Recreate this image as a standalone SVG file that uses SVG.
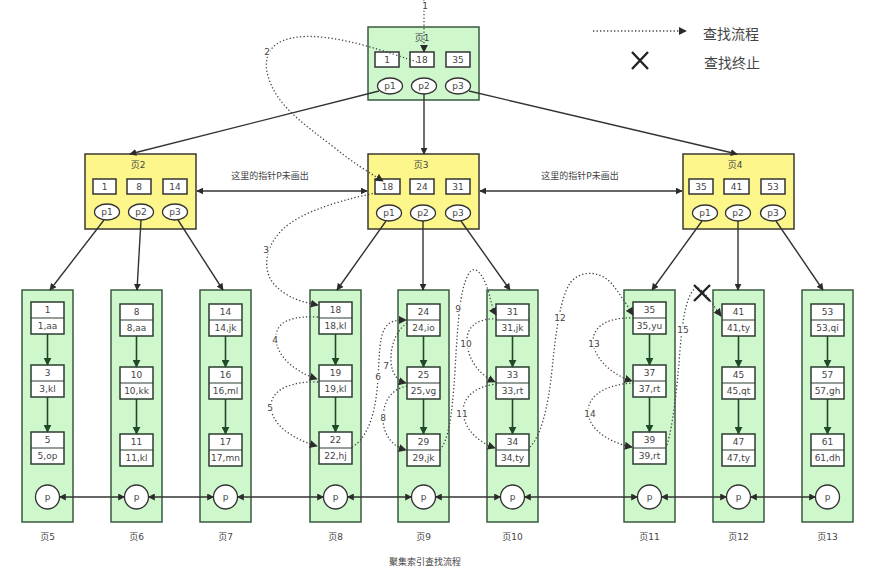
<svg xmlns="http://www.w3.org/2000/svg" width="878" height="572" viewBox="0 0 878 572">
<defs>
<marker id="ah" viewBox="0 0 10 10" refX="9" refY="5" markerWidth="7" markerHeight="7" markerUnits="userSpaceOnUse" orient="auto-start-reverse"><path d="M0,0 L10,5 L0,10 z" fill="#2b2b2b"/></marker>
<marker id="ahg" viewBox="0 0 10 10" refX="9" refY="5" markerWidth="8" markerHeight="8" markerUnits="userSpaceOnUse" orient="auto-start-reverse"><path d="M0,0 L10,5 L0,10 z" fill="#1f4a2a"/></marker>
<marker id="ahd" viewBox="0 0 10 10" refX="9" refY="5" markerWidth="8" markerHeight="8" markerUnits="userSpaceOnUse" orient="auto"><path d="M0,0 L10,5 L0,10 z" fill="#2b2b2b"/></marker>
</defs>
<style>
text{font-family:"DejaVu Sans","Noto Sans CJK SC",sans-serif;fill:#444;text-anchor:middle;dominant-baseline:central}
.t9{font-size:9px}
.t10{font-size:10px}
.leg{font-size:14px;text-anchor:start}
.green{fill:#cff7cc;stroke:#3a5a40;stroke-width:1.5}
.yellow{fill:#fdf68a;stroke:#3a3a30;stroke-width:1.5}
.box{fill:#fff;stroke:#333;stroke-width:1.5}
.lbox{fill:#fff;stroke:#2d3d30;stroke-width:1.5}
.ell{fill:#fff;stroke:#333;stroke-width:1.3}
.tree{stroke:#333;stroke-width:1.4;fill:none;marker-end:url(#ah)}
.dbl{stroke:#333;stroke-width:1.4;fill:none;marker-start:url(#ah);marker-end:url(#ah)}
.inner{stroke:#1f4a2a;stroke-width:1.6;fill:none;marker-end:url(#ahg)}
.dot{stroke:#444;stroke-width:1.3;fill:none;stroke-dasharray:1.3 2.2;marker-end:url(#ahd)}
.num{font-size:9px;paint-order:stroke;stroke:#fff;stroke-width:3px}
.x{stroke:#222;stroke-width:2.4;fill:none}
</style>
<rect width="878" height="572" fill="#fff"/>

<!-- legend -->
<g id="legend">
<path d="M593,31 L686,31" class="dot"/>
<text x="703" y="34" class="leg">查找流程</text>
<path d="M632,52 L648,69 M648,52 L632,69" class="x"/>
<text x="704" y="63" class="leg">查找终止</text>
</g>

<!-- page 1 -->
<g id="page1">
<rect x="368" y="27" width="111" height="73" class="green"/>
<text x="422" y="38" class="t9">页1</text>
<rect x="375" y="52" width="24" height="15" class="box"/><text x="387" y="60" class="t9">1</text>
<rect x="410" y="52" width="24" height="15" class="box"/><text x="422" y="60" class="t9">18</text>
<rect x="446" y="52" width="24" height="15" class="box"/><text x="458" y="60" class="t9">35</text>
<ellipse cx="390" cy="86" rx="12.5" ry="8" class="ell"/><text x="390" y="86" class="t9">p1</text>
<ellipse cx="424" cy="86" rx="12.5" ry="8" class="ell"/><text x="424" y="86" class="t9">p2</text>
<ellipse cx="458" cy="86" rx="12.5" ry="8" class="ell"/><text x="458" y="86" class="t9">p3</text>
</g>

<!-- page 2 -->
<g id="page2">
<rect x="85" y="154" width="111" height="75" class="yellow"/>
<text x="138" y="165" class="t9">页2</text>
<rect x="93" y="179" width="23" height="15" class="box"/><text x="104.5" y="187" class="t9">1</text>
<rect x="127" y="179" width="24" height="15" class="box"/><text x="139" y="187" class="t9">8</text>
<rect x="163" y="179" width="24" height="15" class="box"/><text x="175" y="187" class="t9">14</text>
<ellipse cx="107" cy="212" rx="12.5" ry="8" class="ell"/><text x="107" y="212" class="t9">p1</text>
<ellipse cx="141" cy="212" rx="12.5" ry="8" class="ell"/><text x="141" y="212" class="t9">p2</text>
<ellipse cx="175" cy="212" rx="12.5" ry="8" class="ell"/><text x="175" y="212" class="t9">p3</text>
</g>

<!-- page 3 -->
<g id="page3">
<rect x="368" y="154" width="111" height="75" class="yellow"/>
<text x="421" y="165" class="t9">页3</text>
<rect x="375" y="179" width="25" height="15" class="box"/><text x="387.5" y="187" class="t9">18</text>
<rect x="410" y="179" width="24" height="15" class="box"/><text x="422" y="187" class="t9">24</text>
<rect x="446" y="179" width="24" height="15" class="box"/><text x="458" y="187" class="t9">31</text>
<ellipse cx="389" cy="213" rx="12.5" ry="8" class="ell"/><text x="389" y="213" class="t9">p1</text>
<ellipse cx="423" cy="213" rx="12.5" ry="8" class="ell"/><text x="423" y="213" class="t9">p2</text>
<ellipse cx="458" cy="213" rx="12.5" ry="8" class="ell"/><text x="458" y="213" class="t9">p3</text>
</g>

<!-- page 4 -->
<g id="page4">
<rect x="683" y="154" width="111" height="75" class="yellow"/>
<text x="735" y="165" class="t9">页4</text>
<rect x="689" y="179" width="24" height="15" class="box"/><text x="701" y="187" class="t9">35</text>
<rect x="724" y="179" width="25" height="15" class="box"/><text x="736.5" y="187" class="t9">41</text>
<rect x="761" y="179" width="24" height="15" class="box"/><text x="773" y="187" class="t9">53</text>
<ellipse cx="705" cy="213" rx="12.5" ry="8" class="ell"/><text x="705" y="213" class="t9">p1</text>
<ellipse cx="738" cy="213" rx="12.5" ry="8" class="ell"/><text x="738" y="213" class="t9">p2</text>
<ellipse cx="773" cy="213" rx="12.5" ry="8" class="ell"/><text x="773" y="213" class="t9">p3</text>
</g>

<!-- leaf pages -->
<g id="page5">
<rect x="22" y="290" width="51" height="232" class="green"/>
<rect x="31" y="302" width="33" height="32" class="lbox"/><line x1="31" y1="318" x2="64" y2="318" stroke="#2d3d30" stroke-width="1.2"/><text x="47.5" y="310" class="t9">1</text><text x="47.5" y="326" class="t9">1,aa</text>
<rect x="31" y="365" width="33" height="32" class="lbox"/><line x1="31" y1="381" x2="64" y2="381" stroke="#2d3d30" stroke-width="1.2"/><text x="47.5" y="373" class="t9">3</text><text x="47.5" y="389" class="t9">3,kl</text>
<rect x="31" y="432" width="33" height="32" class="lbox"/><line x1="31" y1="448" x2="64" y2="448" stroke="#2d3d30" stroke-width="1.2"/><text x="47.5" y="440" class="t9">5</text><text x="47.5" y="456" class="t9">5,op</text>
<path d="M47.5,334 L47.5,365" class="inner"/><path d="M47.5,397 L47.5,432" class="inner"/>
<circle cx="47.5" cy="497" r="12" class="ell"/><text x="47.5" y="497" class="t9">p</text>
<text x="47.5" y="537" class="t9">页5</text>
</g>
<g id="page6">
<rect x="111" y="290" width="51" height="232" class="green"/>
<rect x="120" y="304" width="33" height="32" class="lbox"/><line x1="120" y1="320" x2="153" y2="320" stroke="#2d3d30" stroke-width="1.2"/><text x="136.5" y="312" class="t9">8</text><text x="136.5" y="328" class="t9">8,aa</text>
<rect x="120" y="367" width="33" height="32" class="lbox"/><line x1="120" y1="383" x2="153" y2="383" stroke="#2d3d30" stroke-width="1.2"/><text x="136.5" y="375" class="t9">10</text><text x="136.5" y="391" class="t9">10,kk</text>
<rect x="120" y="434" width="33" height="32" class="lbox"/><line x1="120" y1="450" x2="153" y2="450" stroke="#2d3d30" stroke-width="1.2"/><text x="136.5" y="442" class="t9">11</text><text x="136.5" y="458" class="t9">11,kl</text>
<path d="M136.5,336 L136.5,367" class="inner"/><path d="M136.5,399 L136.5,434" class="inner"/>
<circle cx="136.5" cy="497" r="12" class="ell"/><text x="136.5" y="497" class="t9">p</text>
<text x="136.5" y="537" class="t9">页6</text>
</g>
<g id="page7">
<rect x="200" y="290" width="51" height="232" class="green"/>
<rect x="209" y="304" width="33" height="32" class="lbox"/><line x1="209" y1="320" x2="242" y2="320" stroke="#2d3d30" stroke-width="1.2"/><text x="225.5" y="312" class="t9">14</text><text x="225.5" y="328" class="t9">14,jk</text>
<rect x="209" y="367" width="33" height="32" class="lbox"/><line x1="209" y1="383" x2="242" y2="383" stroke="#2d3d30" stroke-width="1.2"/><text x="225.5" y="375" class="t9">16</text><text x="225.5" y="391" class="t9">16,ml</text>
<rect x="209" y="434" width="33" height="32" class="lbox"/><line x1="209" y1="450" x2="242" y2="450" stroke="#2d3d30" stroke-width="1.2"/><text x="225.5" y="442" class="t9">17</text><text x="225.5" y="458" class="t9">17,mn</text>
<path d="M225.5,336 L225.5,367" class="inner"/><path d="M225.5,399 L225.5,434" class="inner"/>
<circle cx="225.5" cy="497" r="12" class="ell"/><text x="225.5" y="497" class="t9">p</text>
<text x="225.5" y="537" class="t9">页7</text>
</g>
<g id="page8">
<rect x="310" y="290" width="51" height="232" class="green"/>
<rect x="319" y="302" width="33" height="32" class="lbox"/><line x1="319" y1="318" x2="352" y2="318" stroke="#2d3d30" stroke-width="1.2"/><text x="335.5" y="310" class="t9">18</text><text x="335.5" y="326" class="t9">18,kl</text>
<rect x="319" y="365" width="33" height="32" class="lbox"/><line x1="319" y1="381" x2="352" y2="381" stroke="#2d3d30" stroke-width="1.2"/><text x="335.5" y="373" class="t9">19</text><text x="335.5" y="389" class="t9">19,kl</text>
<rect x="319" y="432" width="33" height="32" class="lbox"/><line x1="319" y1="448" x2="352" y2="448" stroke="#2d3d30" stroke-width="1.2"/><text x="335.5" y="440" class="t9">22</text><text x="335.5" y="456" class="t9">22,hj</text>
<path d="M335.5,334 L335.5,365" class="inner"/><path d="M335.5,397 L335.5,432" class="inner"/>
<circle cx="335.5" cy="497" r="12" class="ell"/><text x="335.5" y="497" class="t9">p</text>
<text x="335.5" y="537" class="t9">页8</text>
</g>
<g id="page9">
<rect x="398" y="290" width="51" height="232" class="green"/>
<rect x="407" y="304" width="33" height="32" class="lbox"/><line x1="407" y1="320" x2="440" y2="320" stroke="#2d3d30" stroke-width="1.2"/><text x="423.5" y="312" class="t9">24</text><text x="423.5" y="328" class="t9">24,io</text>
<rect x="407" y="367" width="33" height="32" class="lbox"/><line x1="407" y1="383" x2="440" y2="383" stroke="#2d3d30" stroke-width="1.2"/><text x="423.5" y="375" class="t9">25</text><text x="423.5" y="391" class="t9">25,vg</text>
<rect x="407" y="434" width="33" height="32" class="lbox"/><line x1="407" y1="450" x2="440" y2="450" stroke="#2d3d30" stroke-width="1.2"/><text x="423.5" y="442" class="t9">29</text><text x="423.5" y="458" class="t9">29,jk</text>
<path d="M423.5,336 L423.5,367" class="inner"/><path d="M423.5,399 L423.5,434" class="inner"/>
<circle cx="423.5" cy="497" r="12" class="ell"/><text x="423.5" y="497" class="t9">p</text>
<text x="423.5" y="537" class="t9">页9</text>
</g>
<g id="page10">
<rect x="487" y="290" width="51" height="232" class="green"/>
<rect x="496" y="304" width="33" height="32" class="lbox"/><line x1="496" y1="320" x2="529" y2="320" stroke="#2d3d30" stroke-width="1.2"/><text x="512.5" y="312" class="t9">31</text><text x="512.5" y="328" class="t9">31,jk</text>
<rect x="496" y="367" width="33" height="32" class="lbox"/><line x1="496" y1="383" x2="529" y2="383" stroke="#2d3d30" stroke-width="1.2"/><text x="512.5" y="375" class="t9">33</text><text x="512.5" y="391" class="t9">33,rt</text>
<rect x="496" y="434" width="33" height="32" class="lbox"/><line x1="496" y1="450" x2="529" y2="450" stroke="#2d3d30" stroke-width="1.2"/><text x="512.5" y="442" class="t9">34</text><text x="512.5" y="458" class="t9">34,ty</text>
<path d="M512.5,336 L512.5,367" class="inner"/><path d="M512.5,399 L512.5,434" class="inner"/>
<circle cx="512.5" cy="497" r="12" class="ell"/><text x="512.5" y="497" class="t9">p</text>
<text x="512.5" y="537" class="t9">页10</text>
</g>
<g id="page11">
<rect x="624" y="290" width="51" height="232" class="green"/>
<rect x="633" y="302" width="33" height="32" class="lbox"/><line x1="633" y1="318" x2="666" y2="318" stroke="#2d3d30" stroke-width="1.2"/><text x="649.5" y="310" class="t9">35</text><text x="649.5" y="326" class="t9">35,yu</text>
<rect x="633" y="365" width="33" height="32" class="lbox"/><line x1="633" y1="381" x2="666" y2="381" stroke="#2d3d30" stroke-width="1.2"/><text x="649.5" y="373" class="t9">37</text><text x="649.5" y="389" class="t9">37,rt</text>
<rect x="633" y="432" width="33" height="32" class="lbox"/><line x1="633" y1="448" x2="666" y2="448" stroke="#2d3d30" stroke-width="1.2"/><text x="649.5" y="440" class="t9">39</text><text x="649.5" y="456" class="t9">39,rt</text>
<path d="M649.5,334 L649.5,365" class="inner"/><path d="M649.5,397 L649.5,432" class="inner"/>
<circle cx="649.5" cy="497" r="12" class="ell"/><text x="649.5" y="497" class="t9">p</text>
<text x="649.5" y="537" class="t9">页11</text>
</g>
<g id="page12">
<rect x="713" y="290" width="51" height="232" class="green"/>
<rect x="722" y="304" width="33" height="32" class="lbox"/><line x1="722" y1="320" x2="755" y2="320" stroke="#2d3d30" stroke-width="1.2"/><text x="738.5" y="312" class="t9">41</text><text x="738.5" y="328" class="t9">41,ty</text>
<rect x="722" y="367" width="33" height="32" class="lbox"/><line x1="722" y1="383" x2="755" y2="383" stroke="#2d3d30" stroke-width="1.2"/><text x="738.5" y="375" class="t9">45</text><text x="738.5" y="391" class="t9">45,qt</text>
<rect x="722" y="434" width="33" height="32" class="lbox"/><line x1="722" y1="450" x2="755" y2="450" stroke="#2d3d30" stroke-width="1.2"/><text x="738.5" y="442" class="t9">47</text><text x="738.5" y="458" class="t9">47,ty</text>
<path d="M738.5,336 L738.5,367" class="inner"/><path d="M738.5,399 L738.5,434" class="inner"/>
<circle cx="738.5" cy="497" r="12" class="ell"/><text x="738.5" y="497" class="t9">p</text>
<text x="738.5" y="537" class="t9">页12</text>
</g>
<g id="page13">
<rect x="802" y="290" width="51" height="232" class="green"/>
<rect x="811" y="304" width="33" height="32" class="lbox"/><line x1="811" y1="320" x2="844" y2="320" stroke="#2d3d30" stroke-width="1.2"/><text x="827.5" y="312" class="t9">53</text><text x="827.5" y="328" class="t9">53,qi</text>
<rect x="811" y="367" width="33" height="32" class="lbox"/><line x1="811" y1="383" x2="844" y2="383" stroke="#2d3d30" stroke-width="1.2"/><text x="827.5" y="375" class="t9">57</text><text x="827.5" y="391" class="t9">57,gh</text>
<rect x="811" y="434" width="33" height="32" class="lbox"/><line x1="811" y1="450" x2="844" y2="450" stroke="#2d3d30" stroke-width="1.2"/><text x="827.5" y="442" class="t9">61</text><text x="827.5" y="458" class="t9">61,dh</text>
<path d="M827.5,336 L827.5,367" class="inner"/><path d="M827.5,399 L827.5,434" class="inner"/>
<circle cx="827.5" cy="497" r="12" class="ell"/><text x="827.5" y="497" class="t9">p</text>
<text x="827.5" y="537" class="t9">页13</text>
</g>

<!-- connectors -->
<g id="connectors">
<path d="M379,91 L130,154" class="tree"/>
<path d="M424,94 L424,154" class="tree"/>
<path d="M469,91 L737,154" class="tree"/>
<path d="M104,220 L50,290" class="tree"/>
<path d="M141,220 L137,290" class="tree"/>
<path d="M178,220 L223,290" class="tree"/>
<path d="M386,221 L337,290" class="tree"/>
<path d="M423,221 L423,290" class="tree"/>
<path d="M461,221 L510,290" class="tree"/>
<path d="M702,221 L652,290" class="tree"/>
<path d="M738,221 L738,290" class="tree"/>
<path d="M776,221 L823,290" class="tree"/>
<path d="M197,191 L367,191" class="dbl"/>
<path d="M480,191 L682,191" class="dbl"/>
<text x="270" y="176" class="t9">这里的指针P未画出</text>
<text x="580" y="176" class="t9">这里的指针P未画出</text>
<path d="M59.5,497 L124.5,497" class="dbl"/>
<path d="M148.5,497 L213.5,497" class="dbl"/>
<path d="M237.5,497 L323.5,497" class="dbl"/>
<path d="M347.5,497 L411.5,497" class="dbl"/>
<path d="M435.5,497 L500.5,497" class="dbl"/>
<path d="M524.5,497 L637.5,497" class="dbl"/>
<path d="M661.5,497 L726.5,497" class="dbl"/>
<path d="M750.5,497 L815.5,497" class="dbl"/>

<!-- search flow -->
<path d="M424,0 L424,52" class="dot"/>
<text x="425" y="6" class="num">1</text>
<path d="M417,62 C395,55 330,30 292,38 C266,43 262,62 270,82 C280,108 305,125 335,148 C352,162 368,172 383,181" class="dot"/>
<text x="267" y="52" class="num">2</text>
<path d="M376,193 C350,198 302,210 282,230 C264,248 263,270 273,283 C286,298 302,302 318,305" class="dot"/>
<text x="266" y="250" class="num">3</text>
<path d="M318,317 C295,316 278,320 276,335 C274,355 295,372 317,379" class="dot"/>
<text x="275" y="340" class="num">4</text>
<path d="M318,382 C295,381 272,388 271,405 C270,425 295,440 317,446" class="dot"/>
<text x="270" y="408" class="num">5</text>
<path d="M352,447 C365,440 374,420 377,390 C380,360 378,340 385,328 C390,320 398,320 406,320" class="dot"/>
<text x="378" y="377" class="num">6</text>
<path d="M407,323 C397,330 390,345 391,362 C392,375 398,381 406,383" class="dot"/>
<text x="386" y="366" class="num">7</text>
<path d="M407,386 C392,389 383,400 383,420 C384,438 395,447 406,450" class="dot"/>
<text x="383" y="418" class="num">8</text>
<path d="M440,450 C448,440 452,420 455,370 C458,320 460,290 468,275 C475,262 483,275 488,290 C491,300 492,308 496,315" class="dot"/>
<text x="458" y="309" class="num">9</text>
<path d="M497,319 C480,318 467,325 467,340 C467,360 480,375 495,382" class="dot"/>
<text x="466" y="344" class="num">10</text>
<path d="M497,384 C478,386 463,395 463,412 C464,430 480,443 495,448" class="dot"/>
<text x="462" y="414" class="num">11</text>
<path d="M530,447 C540,437 548,410 552,370 C556,330 560,300 570,283 C580,270 600,270 612,284 C620,294 627,305 633,315" class="dot"/>
<text x="560" y="318" class="num">12</text>
<path d="M634,318 C610,317 594,325 593,340 C593,358 612,375 632,381" class="dot"/>
<text x="594" y="344" class="num">13</text>
<path d="M634,383 C610,384 588,393 588,412 C589,430 610,443 632,447" class="dot"/>
<text x="590" y="414" class="num">14</text>
<path d="M667,445 C673,425 677,390 680,350 C683,312 688,292 697,287 C705,292 713,305 721,316" class="dot"/>
<text x="683" y="330" class="num">15</text>
<path d="M694,285 L710,301 M710,285 L694,301" class="x"/>
</g>

<text x="425" y="562" class="t9">聚集索引查找流程</text>
</svg>
